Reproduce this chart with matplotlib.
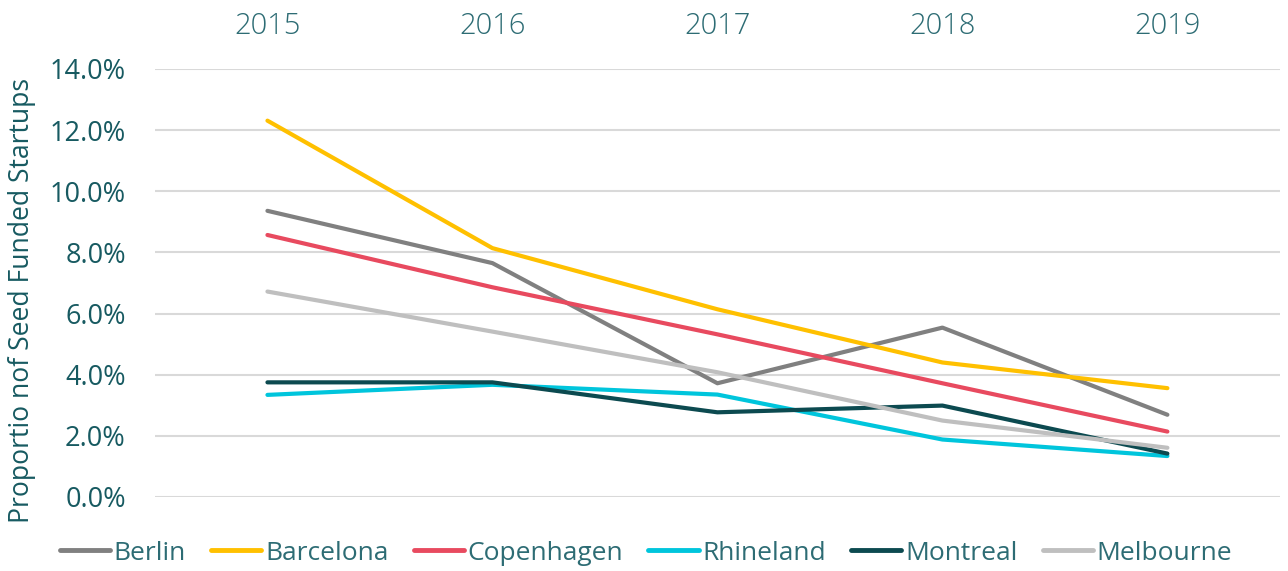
import matplotlib.pyplot as plt
import numpy as np

years = ["2015", "2016", "2017", "2018", "2019"]
cities = ["Berlin", "Barcelona", "Copenhagen", "Rhineland", "Montreal", "Melbourne"]
berlin = [9.36, 7.65, 3.72, 5.54, 2.69]
barcelona = [12.31, 8.14, 6.14, 4.40, 3.56]
copenhagen = [8.57, 6.86, 5.32, 3.72, 2.14]
rhineland = [3.34, 3.67, 3.35, 1.88, 1.34]
montreal = [3.75, 3.75, 2.77, 2.99, 1.42]
melbourne = [6.72, 5.41, 4.08, 2.50, 1.61]
colors = ["#808080", "#FFC000", "#E84A5F", "#00C5DC", "#0C4A50", "#BFBFBF"]

plt.rcParams['font.family'] = ['Open Sans', 'DejaVu Sans']

fig = plt.figure(figsize=(12.88, 5.71), dpi=100)
ax = fig.add_axes([0.1203, 0.1296, 0.8734, 0.7496])

x = np.arange(len(years))
series = [berlin, barcelona, copenhagen, rhineland, montreal, melbourne]
for name, values, color in zip(cities, series, colors):
    ax.plot(x, values, color=color, linewidth=3, solid_capstyle='round',
            label=name)

ax.set_xlim(-0.5, 4.5)
ax.set_ylim(0, 14)
ax.set_yticks(np.arange(0, 15, 2))
ax.set_yticklabels([f"{v:.1f}%" for v in np.arange(0, 15, 2)],
                   color="#175A61", fontsize=19.5)
ax.set_xticks(x)
ax.set_xticklabels(years, color="#2D6C74", fontsize=21, fontweight='light')
ax.xaxis.tick_top()
ax.tick_params(axis='both', length=0)
ax.tick_params(axis='x', pad=20)
ax.tick_params(axis='y', pad=21)
ax.grid(axis='y', color="#D9D9D9", linewidth=1.5)
ax.set_axisbelow(True)
for s in ax.spines.values():
    s.set_visible(False)

# y label placed by hand so it sits close to the figure edge
fig.text(22 / 1288, 1 - 300 / 571, "Proportio nof Seed Funded Startups",
         rotation=90, ha='center', va='center', color="#175A61", fontsize=19.1)

leg = fig.legend(loc='center', bbox_to_anchor=(0.5016, 1 - 553 / 571), ncol=6,
                 frameon=False, fontsize=19, handlelength=1.9,
                 handletextpad=0.15, columnspacing=0.95, labelcolor="#2D6C74")
for line in leg.get_lines():
    line.set_linewidth(3.5)

fig.savefig("out.png", dpi=100)
